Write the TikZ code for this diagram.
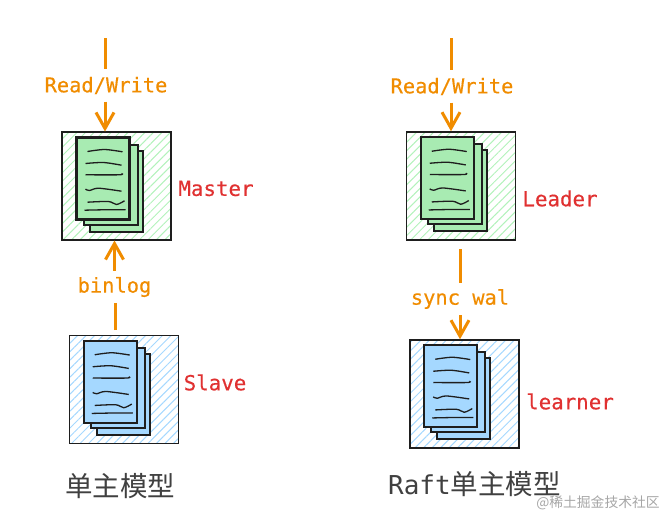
\documentclass[tikz,border=0pt]{standalone}
\usepackage{fontspec}
\usetikzlibrary{arrows.meta,patterns.meta,positioning}
\newfontfamily\labelfont[FakeBold=0.35]{DejaVu Sans Mono}
\newfontfamily\raftfont{DejaVu Sans Mono}
\newfontfamily\cjkfont{Noto Sans CJK SC}
\definecolor{flowcolor}{HTML}{F08C00}
\definecolor{rolecolor}{HTML}{E03131}
\definecolor{inkcolor}{HTML}{1E1E1E}
\definecolor{greenpage}{HTML}{A8EBB2}
\definecolor{bluepage}{HTML}{A5D8FF}
\definecolor{greenhatch}{HTML}{B2F2BB}
\definecolor{bluehatch}{HTML}{A5D8FF}
\tikzset{
  nodebox/.style={draw=inkcolor,line width=1.5pt,inner sep=0pt,minimum width=109pt,minimum height=108pt,
    pattern={Lines[angle=45,distance=6pt,line width=1pt]},pattern color=#1},
  flowline/.style={draw=flowcolor,line width=3pt},
  flowtip/.style={flowline,-{Straight Barb[length=16pt,width=18pt,line width=3pt]}},
  flowlabel/.style={font=\labelfont\fontsize{20.4}{24}\selectfont,text=flowcolor,inner sep=0pt,minimum height=32pt},
  rolelabel/.style={font=\labelfont\fontsize{20.8}{24}\selectfont,text=rolecolor,inner sep=0pt},
  titlelabel/.style={font=\fontsize{27.5}{30}\selectfont,text=inkcolor!85,inner sep=0pt},
  pics/docstack/.style={code={
    \draw [inkcolor,line width=2pt,fill=#1] (28,19) rectangle (81,100);
    \draw [inkcolor,line width=2pt,fill=#1] (22,13) rectangle (76,93);
    \draw [inkcolor,line width=2.2pt,fill=#1] (15,6) rectangle (68,88);
    \draw [inkcolor,line width=1.3pt] plot[smooth] coordinates {(26,20) (43,18) (61,20.3)};
    \draw [inkcolor,line width=1.3pt] plot[smooth] coordinates {(24,32) (42,31) (60,33.7)};
    \draw [inkcolor,line width=1.3pt] plot[smooth] coordinates {(24,43.3) (58,43.3) (60,42)};
    \draw [inkcolor,line width=1.3pt] plot[smooth] coordinates {(24,57.7) (28,59) (37,56.7) (60,59.7)};
    \draw [inkcolor,line width=1.3pt] plot[smooth] coordinates {(26,70.7) (47,70) (55,73) (63,69.3)};
    \draw [inkcolor,line width=1.3pt] plot[smooth] coordinates {(23,78.7) (42,78.3) (64,78.3)};
  }}
}
\begin{document}
\begin{tikzpicture}[x=1pt,y=-1pt]
\useasboundingbox (0,0) rectangle (665,515);

\node [nodebox=greenhatch] (master) at (116.5,186) {};
\node [nodebox=bluehatch] (slave) at (124,389.5) {};
\node [nodebox=greenhatch] (leader) at (461,186) {};
\node [nodebox=bluehatch] (learner) at (464.5,394) {};

\pic at (master.north west) {docstack=greenpage};
\pic at (slave.north west) {docstack=bluepage};
\pic at (leader.north west) {docstack=greenpage};
\pic at (learner.north west) {docstack=bluepage};

\node [rolelabel] (masterlabel) at (216,188.5) {Master};
\node [rolelabel] (slavelabel) at (215,382.5) {Slave};
\node [rolelabel] (leaderlabel) at (560,198.5) {Leader};
\node [rolelabel] (learnerlabel) at (570,401.5) {learner};

\node [flowlabel] (masterrw) at (106,85.5) {Read/Write};
\node [flowlabel] (binlog) at (114.5,287) {binlog};
\node [flowlabel] (leaderrw) at (452,86.5) {Read/Write};
\node [flowlabel] (syncwal) at (460,299) {sync wal};

\coordinate (masterin) at (105,38);
\coordinate (leaderin) at (451,38);
\coordinate (slaveout) at (115,330);
\coordinate (leaderout) at (460,249);

\draw [flowline] (masterin) -- (masterin |- masterrw.north);
\draw [flowtip] (masterin |- masterrw.south) -- (masterin |- master.north);
\draw [flowline] (slaveout) -- (slaveout |- binlog.south);
\draw [flowtip] (binlog.north) -- (binlog.north |- master.south);
\draw [flowline] (leaderin) -- (leaderin |- leaderrw.north);
\draw [flowtip] (leaderin |- leaderrw.south) -- (leaderin |- leader.north);
\draw [flowline] (leaderout) -- (leaderout |- syncwal.north);
\draw [flowtip] (syncwal.south) -- (syncwal.south |- learner.north);

\node [titlelabel] (mastertitle) at (120,486) {\cjkfont 单主模型};
\node [titlelabel] (rafttitle) at (474.5,484.5) {{\raftfont\fontsize{26}{30}\selectfont Raft}\cjkfont 单主模型};
\node [inner sep=0pt,text=black!35,font=\cjkfont\fontsize{13.8}{18}\selectfont] (watermark) at (598,503) {@稀土掘金技术社区};
\end{tikzpicture}
\end{document}
